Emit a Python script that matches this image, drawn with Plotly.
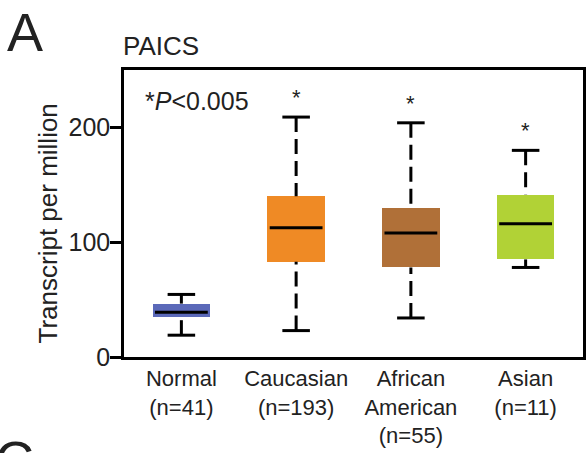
import plotly.graph_objects as go

categories = ["Normal<br>(n=41)", "Caucasian<br>(n=193)", "African<br>American<br>(n=55)", "Asian<br>(n=11)"]
lower_whisker = [19, 23, 34, 78]
q1 = [34.5, 83, 78, 85]
median = [39, 112.5, 108, 116]
q3 = [46.5, 140, 130, 141.5]
upper_whisker = [54.5, 209, 204, 180]
colors = ["#5b69b9", "#ef8a25", "#b07038", "#b1d236"]
significant = [False, True, True, True]
y_ticks = [0, 100, 200]

W, H = 587, 453
L, R, T, B = 124, 1, 70, 96
PW, PH = W - L - R, H - T - B

def px(x):
    return (x - L) / PW

def py(y):
    return (H - B - y) / PH

xs = list(range(len(categories)))
box_w = 0.5
cap_hw = 0.12

fig = go.Figure()

# boxes (Q1 to Q3)
fig.add_trace(go.Bar(
    x=xs, y=[b - a for a, b in zip(q1, q3)], base=q1, width=box_w,
    marker=dict(color=colors, line=dict(width=0)), showlegend=False, hoverinfo="skip"))

for i in xs:
    # whiskers (dashed)
    fig.add_trace(go.Scatter(x=[i, i], y=[upper_whisker[i], q3[i]], mode="lines",
                             line=dict(color="black", width=3, dash="15px,7px"),
                             showlegend=False, hoverinfo="skip"))
    fig.add_trace(go.Scatter(x=[i, i], y=[lower_whisker[i], q1[i]], mode="lines",
                             line=dict(color="black", width=3, dash="15px,7px"),
                             showlegend=False, hoverinfo="skip"))
    # caps
    for v in (upper_whisker[i], lower_whisker[i]):
        fig.add_trace(go.Scatter(x=[i - cap_hw, i + cap_hw], y=[v, v], mode="lines",
                                 line=dict(color="black", width=3),
                                 showlegend=False, hoverinfo="skip"))
    # median
    fig.add_trace(go.Scatter(x=[i - box_w / 2 + 0.02, i + box_w / 2 - 0.02], y=[median[i], median[i]],
                             mode="lines", line=dict(color="black", width=3),
                             showlegend=False, hoverinfo="skip"))

annotations = []
for i in xs:
    if significant[i]:
        annotations.append(dict(x=i, y=upper_whisker[i], xref="x", yref="y", text="*",
                                showarrow=False, yanchor="bottom", yshift=5,
                                font=dict(size=22, color="#222")))

font_family = "Liberation Sans, Arial, sans-serif"
annotations += [
    dict(x=px(4), y=py(0), xref="paper", yref="paper", text="A", showarrow=False,
         xanchor="left", yanchor="top", font=dict(size=54, color="#222")),
    dict(x=px(121), y=py(29), xref="paper", yref="paper", text="PAICS", showarrow=False,
         xanchor="left", yanchor="top", font=dict(size=26, color="#222")),
    dict(x=px(143), y=py(101), xref="paper", yref="paper", text="*<i>P</i><0.005", showarrow=False,
         xanchor="left", yanchor="middle", font=dict(size=25, color="#222")),
    dict(x=px(-8), y=py(428), xref="paper", yref="paper", text="C", showarrow=False,
         xanchor="left", yanchor="top", font=dict(size=54, color="#222")),
    dict(x=px(48), y=py(223), xref="paper", yref="paper", text="Transcript per million",
         showarrow=False, textangle=-90, xanchor="center", yanchor="middle",
         font=dict(size=26, color="#222")),
]

fig.update_layout(
    width=W, height=H,
    margin=dict(l=L, r=R, t=T, b=B, pad=0),
    paper_bgcolor="white", plot_bgcolor="white",
    font=dict(family=font_family, color="#222"),
    bargap=0,
    annotations=annotations,
    showlegend=False,
)
fig.update_xaxes(
    range=[-0.5, 3.5], tickvals=xs, ticktext=categories, ticks="", ticklen=0,
    showline=True, linecolor="black", linewidth=2.5, mirror=True,
    showgrid=False, zeroline=False, tickfont=dict(size=22, color="#222"),
    ticklabelstandoff=0,
)
fig.update_yaxes(
    range=[0, 250], tickvals=y_ticks, ticks="outside", ticklen=11, tickwidth=2.5, tickcolor="black",
    showline=True, linecolor="black", linewidth=2.5, mirror=True,
    showgrid=False, zeroline=False, tickfont=dict(size=25, color="#222"),
    ticklabelstandoff=-5,
)

fig.write_html("out.html")
